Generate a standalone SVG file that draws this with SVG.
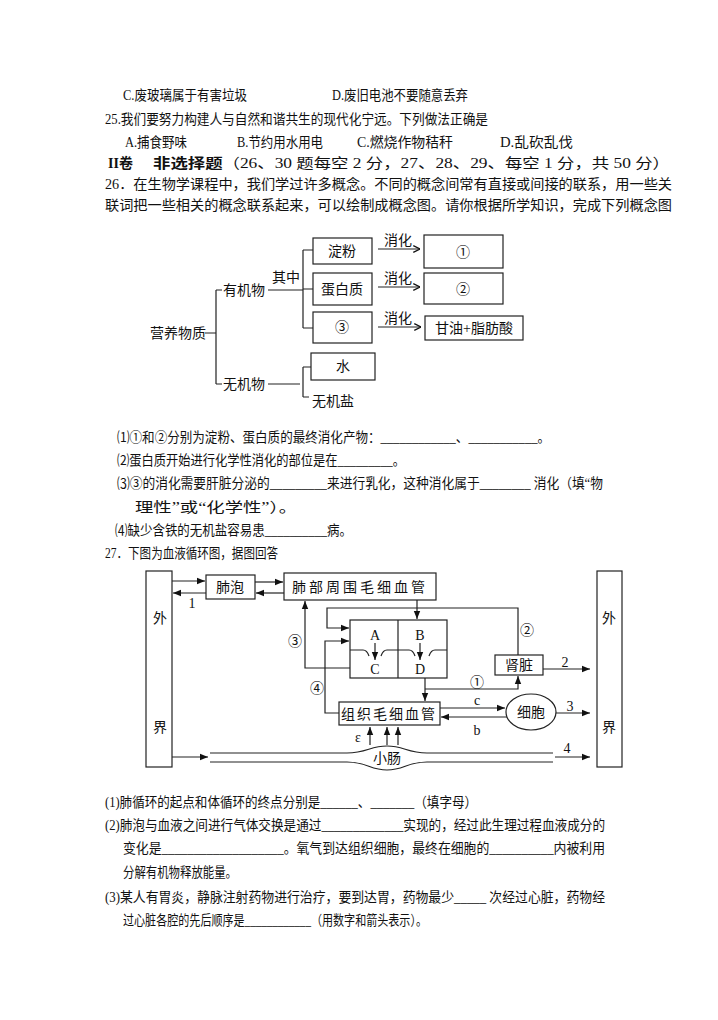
<svg xmlns="http://www.w3.org/2000/svg" width="718" height="1020" viewBox="0 0 718 1020">
<defs>
<marker id="ar" viewBox="0 0 10 10" refX="10" refY="5" markerWidth="7" markerHeight="7" orient="auto"><path d="M0,1 L10,5 L0,9 z" fill="#111"/></marker>
<marker id="ov" viewBox="0 0 10 10" refX="10" refY="5" markerWidth="7" markerHeight="7" orient="auto"><path d="M2,1 L10,5 L2,9" fill="none" stroke="#111" stroke-width="1.5"/></marker>
<style>
text{font-family:"Liberation Serif","Noto Sans CJK SC",serif;font-size:14px;fill:#111}
.t{dominant-baseline:central}
.b{font-weight:bold}
.bx{fill:#fff;stroke:#222;stroke-width:1.2}
.ln{fill:none;stroke:#222;stroke-width:1.2}
.c{text-anchor:middle;dominant-baseline:central}
</style>
</defs>
<rect width="718" height="1020" fill="#fff"/>
<g id="text">
<text class="t" x="123" y="95" textLength="124" lengthAdjust="spacingAndGlyphs">C.废玻璃属于有害垃圾</text>
<text class="t" x="332" y="95" textLength="136" lengthAdjust="spacingAndGlyphs">D.废旧电池不要随意丢弃</text>
<text class="t" x="105" y="119" textLength="383" lengthAdjust="spacingAndGlyphs">25.我们要努力构建人与自然和谐共生的现代化宁远。下列做法正确是</text>
<text class="t" x="125" y="142" textLength="62" lengthAdjust="spacingAndGlyphs">A.捕食野味</text>
<text class="t" x="237" y="142" textLength="86" lengthAdjust="spacingAndGlyphs">B.节约用水用电</text>
<text class="t" x="357" y="142" textLength="96" lengthAdjust="spacingAndGlyphs">C.燃烧作物秸秆</text>
<text class="t" x="500" y="142" textLength="73" lengthAdjust="spacingAndGlyphs">D.乱砍乱伐</text>
<text class="t b" x="108" y="163">II卷</text>
<text class="t" x="153" y="163" textLength="517" lengthAdjust="spacingAndGlyphs"><tspan font-weight="bold">非选择题</tspan>（26、30 题每空 2 分，27、28、29、每空 1 分，共 50 分）</text>
<text class="t" x="105" y="184" textLength="567" lengthAdjust="spacingAndGlyphs">26．在生物学课程中，我们学过许多概念。不同的概念间常有直接或间接的联系，用一些关</text>
<text class="t" x="105" y="205" textLength="567" lengthAdjust="spacingAndGlyphs">联词把一些相关的概念联系起来，可以绘制成概念图。请你根据所学知识，完成下列概念图</text>
<text class="t" x="117" y="437" textLength="433" lengthAdjust="spacingAndGlyphs">⑴①和②分别为淀粉、蛋白质的最终消化产物：____________、___________。</text>
<text class="t" x="117" y="460" textLength="288" lengthAdjust="spacingAndGlyphs">⑵蛋白质开始进行化学性消化的部位是在_________。</text>
<text class="t" x="117" y="483" textLength="486" lengthAdjust="spacingAndGlyphs">⑶③的消化需要肝脏分泌的_________来进行乳化，这种消化属于________ 消化（填“物</text>
<text class="t" x="135" y="507" textLength="162" lengthAdjust="spacingAndGlyphs">理性”或“化学性”）。</text>
<text class="t" x="115" y="530" textLength="237" lengthAdjust="spacingAndGlyphs">⑷缺少含铁的无机盐容易患__________病。</text>
<text class="t" x="105" y="553" textLength="173" lengthAdjust="spacingAndGlyphs">27．下图为血液循环图，据图回答</text>
<text class="t" x="105" y="802" textLength="372" lengthAdjust="spacingAndGlyphs">(1)肺循环的起点和体循环的终点分别是______、_______（填字母）</text>
<text class="t" x="105" y="825" textLength="500" lengthAdjust="spacingAndGlyphs">(2)肺泡与血液之间进行气体交换是通过_____________实现的，经过此生理过程血液成分的</text>
<text class="t" x="123" y="848" textLength="482" lengthAdjust="spacingAndGlyphs">变化是___________________。氧气到达组织细胞，最终在细胞的__________内被利用</text>
<text class="t" x="123" y="872" textLength="114" lengthAdjust="spacingAndGlyphs">分解有机物释放能量。</text>
<text class="t" x="105" y="897" textLength="500" lengthAdjust="spacingAndGlyphs">(3)某人有胃炎，静脉注射药物进行治疗，要到达胃，药物最少_____ 次经过心脏，药物经</text>
<text class="t" x="123" y="920" textLength="304" lengthAdjust="spacingAndGlyphs">过心脏各腔的先后顺序是____________（用数字和箭头表示）。</text>
</g>
<g id="concept-nodes">
<text class="t" x="150" y="333">营养物质</text>
<text class="t" x="223" y="290">有机物</text>
<text class="t" x="272" y="277">其中</text>
<text class="t" x="223" y="384">无机物</text>
<g id="n-starch"><rect class="bx" x="313" y="238" width="59" height="26"/><text class="c" x="342" y="251" font-size="15">淀粉</text></g>
<g id="n-protein"><rect class="bx" x="313" y="273" width="59" height="32"/><text class="c" x="342" y="289" font-size="17">蛋白质</text></g>
<g id="n-3"><rect class="bx" x="313" y="312" width="59" height="31"/><text class="c" x="342" y="327" font-size="15">③</text></g>
<g id="n-1"><rect class="bx" x="424" y="235" width="79" height="33"/><text class="c" x="463" y="252" font-size="16">①</text></g>
<g id="n-2"><rect class="bx" x="424" y="273" width="79" height="31"/><text class="c" x="463" y="289" font-size="16">②</text></g>
<g id="n-fat"><rect class="bx" x="425" y="316" width="98" height="24"/><text class="c" x="474" y="328" font-size="15">甘油+脂肪酸</text></g>
<g id="n-water"><rect class="bx" x="311" y="353" width="64" height="27"/><text class="c" x="343" y="366" font-size="15">水</text></g>
<text class="t" x="312" y="401">无机盐</text>
</g>
<g id="concept-connectors">
<path class="ln" d="M205,333 H216 M216,290 V384 M216,290 H222 M216,384 H222 M268,290 H303 M303,250 V328 M303,250 H313 M303,289 H313 M303,328 H313 M268,384 H300 M303,367 V397 M303,367 H311 M303,397 H309"/>
<path class="ln" d="M378,249 H420" marker-end="url(#ov)"/>
<path class="ln" d="M378,287 H420" marker-end="url(#ov)"/>
<path class="ln" d="M378,327 H421" marker-end="url(#ov)"/>
<text class="c" x="398" y="240">消化</text>
<text class="c" x="398" y="278">消化</text>
<text class="c" x="398" y="318">消化</text>
</g>
<g id="circ-nodes">
<g id="outside-left"><rect class="bx" x="146" y="571" width="26" height="196"/><text class="c" x="160" y="618">外</text><text class="c" x="160" y="727">界</text></g>
<g id="outside-right"><rect class="bx" x="597" y="571" width="25" height="196"/><text class="c" x="609" y="618">外</text><text class="c" x="609" y="727">界</text></g>
<g id="alveoli"><rect class="bx" x="206" y="575" width="49" height="24"/><text class="c" x="230" y="587" font-size="13">肺泡</text></g>
<g id="lung-cap"><rect class="bx" x="284" y="573" width="152" height="27"/><text class="c" x="360" y="587" font-size="13" letter-spacing="3">肺部周围毛细血管</text></g>
<g id="heart"><rect class="bx" x="350" y="620" width="97" height="58"/>
<path class="ln" d="M398,620 V678 M350,650 H363 q4,0 6,6 M381,656 q2,-6 6,-6 H409 q4,0 6,6 M429,656 q2,-6 6,-6 H447"/>
<path class="ln" d="M375,643 V660" marker-end="url(#ar)"/>
<path class="ln" d="M420,643 V660" marker-end="url(#ar)"/>
<text class="c" x="375" y="635" font-size="12">A</text><text class="c" x="375" y="669" font-size="12">C</text>
<text class="c" x="420" y="635" font-size="12">B</text><text class="c" x="420" y="669" font-size="12">D</text></g>
<g id="kidney"><rect class="bx" x="495" y="655" width="48" height="20"/><text class="c" x="519" y="665" font-size="13">肾脏</text></g>
<g id="tissue-cap"><rect class="bx" x="339" y="702" width="101" height="23"/><text class="c" x="389" y="714" font-size="13" letter-spacing="2">组织毛细血管</text></g>
<g id="cell"><ellipse class="bx" cx="531" cy="712" rx="25" ry="18"/><text class="c" x="531" y="712" font-size="13">细胞</text></g>
<g id="intestine"><path class="ln" d="M210,753 H347 C367,753 370,746 387,746 C404,746 407,753 427,753 H553 M210,762 H347 C367,762 370,770 387,770 C404,770 407,762 427,762 H553"/><text class="c" x="387" y="758" font-size="13">小肠</text></g>
</g>
<g id="circ-connectors">
<path class="ln" d="M172,581 H205" marker-end="url(#ar)"/>
<path class="ln" d="M206,593 H173" marker-end="url(#ar)"/>
<path class="ln" d="M255,582 H283" marker-end="url(#ar)"/>
<path class="ln" d="M284,593 H256" marker-end="url(#ar)"/>
<path class="ln" d="M417,600 V619" marker-end="url(#ar)"/>
<path class="ln" d="M518,655 V608 H327 V628 H349" marker-end="url(#ar)"/>
<path class="ln" d="M339,713 H325 V641 H349" marker-end="url(#ar)"/>
<path class="ln" d="M350,668 H305 V601" marker-end="url(#ar)"/>
<path class="ln" d="M425,678 V701" marker-end="url(#ar)"/>
<path class="ln" d="M425,689 H518 V676" marker-end="url(#ar)"/>
<path class="ln" d="M543,669 H590" marker-end="url(#ar)"/>
<path class="ln" d="M440,708 H505" marker-end="url(#ar)"/>
<path class="ln" d="M507,717 H441" marker-end="url(#ar)"/>
<path class="ln" d="M556,713 H590" marker-end="url(#ar)"/>
<path class="ln" d="M370,745 V727" marker-end="url(#ar)"/>
<path class="ln" d="M387,745 V727" marker-end="url(#ar)"/>
<path class="ln" d="M398,745 V727" marker-end="url(#ar)"/>
<path class="ln" d="M172,757 H208" marker-end="url(#ar)"/>
<path class="ln" d="M555,757 H590" marker-end="url(#ar)"/>
<text class="c" x="192" y="603" font-size="12">1</text>
<text class="c" x="527" y="630" font-size="13">②</text>
<text class="c" x="295" y="641" font-size="13">③</text>
<text class="c" x="317" y="688" font-size="13">④</text>
<text class="c" x="477" y="682" font-size="13">①</text>
<text class="c" x="565" y="662" font-size="12">2</text>
<text class="c" x="477" y="700" font-size="12">c</text>
<text class="c" x="477" y="730" font-size="12">b</text>
<text class="c" x="570" y="706" font-size="12">3</text>
<text class="c" x="358" y="737" font-size="11">ε</text>
<text class="c" x="567" y="748" font-size="12">4</text>
</g>
</svg>
